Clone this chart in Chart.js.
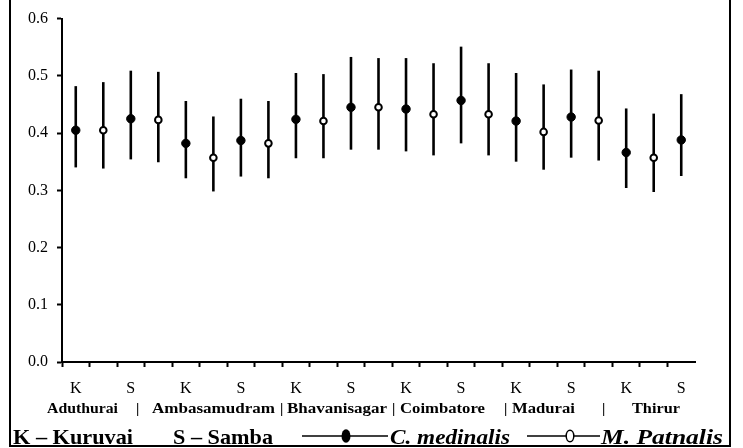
<!DOCTYPE html>
<html>
<head>
<meta charset="utf-8">
<script src="https://cdn.jsdelivr.net/npm/chart.js@4.4.1/dist/chart.umd.min.js"></script>
<style>
  html, body { margin: 0; padding: 0; background: #fff; }
  #wrap { position: relative; width: 743px; height: 448px; overflow: hidden; }
  #chart { position: absolute; left: 0; top: 0; }
  #notes { position: absolute; left: 0; top: 0; }
  #notes text { font-family: "Liberation Serif", "Times New Roman", serif; font-weight: bold; fill: #000; }
</style>
</head>
<body>
<div id="wrap">
  <canvas id="chart" width="743" height="448"></canvas>
  <svg id="notes" width="743" height="448" xmlns="http://www.w3.org/2000/svg"></svg>
</div>
<script>
// season of each labelled category (K = Kuruvai, S = Samba)
const seasons = ['K', 'S', 'K', 'S', 'K', 'S', 'K', 'S', 'K', 'S', 'K', 'S']
const locations = ['Aduthurai', 'Ambasamudram', 'Bhavanisagar', 'Coimbatore', 'Madurai', 'Thirur']

// C. medinalis (filled) - one per location/season
const medinalisMean = [0.405, 0.425, 0.382, 0.387, 0.424, 0.445, 0.442, 0.457, 0.421, 0.428, 0.366, 0.388]
const medinalisLow  = [0.340, 0.354, 0.321, 0.324, 0.356, 0.371, 0.368, 0.382, 0.350, 0.357, 0.304, 0.325]
const medinalisHigh = [0.482, 0.509, 0.456, 0.460, 0.505, 0.533, 0.531, 0.551, 0.505, 0.511, 0.443, 0.468]

// M. patnalis (open) - last season has none
const patnalisMean = [0.405, 0.423, 0.357, 0.382, 0.421, 0.445, 0.433, 0.433, 0.402, 0.422, 0.357]
const patnalisLow  = [0.338, 0.349, 0.298, 0.321, 0.356, 0.371, 0.361, 0.361, 0.336, 0.352, 0.297]
const patnalisHigh = [0.489, 0.507, 0.429, 0.456, 0.503, 0.531, 0.522, 0.522, 0.485, 0.509, 0.434]

const yTicks = [0, 0.1, 0.2, 0.3, 0.4, 0.5, 0.6]

// 23 slots: medinalis at even slots, patnalis at odd slots
const nSlots = medinalisMean.length + patnalisMean.length
const labels = []
const medData = [], patData = [], medLo = [], medHi = [], patLo = [], patHi = []
for (let i = 0; i < nSlots; i++) {
    const k = Math.floor(i / 2)
    labels.push(i % 2 === 0 ? seasons[k] : '')
    medData.push(i % 2 === 0 ? medinalisMean[k] : null)
    medLo.push(i % 2 === 0 ? medinalisLow[k] : null)
    medHi.push(i % 2 === 0 ? medinalisHigh[k] : null)
    patData.push(i % 2 === 1 ? patnalisMean[k] : null)
    patLo.push(i % 2 === 1 ? patnalisLow[k] : null)
    patHi.push(i % 2 === 1 ? patnalisHigh[k] : null)
}

const serif = "'Liberation Serif', 'Times New Roman', serif"

const errorBars = {
    id: 'errorBars',
    beforeDatasetsDraw(chart) {
        const ctx = chart.ctx
        const x = chart.scales.x, y = chart.scales.y
        ctx.save()
        ctx.strokeStyle = '#000'
        ctx.lineWidth = 2.6
        chart.data.datasets.forEach(ds => {
            ds.lo.forEach((lo, i) => {
                if (lo == null) return
                const px = x.getPixelForValue(i)
                ctx.beginPath()
                ctx.moveTo(px, y.getPixelForValue(lo))
                ctx.lineTo(px, y.getPixelForValue(ds.hi[i]))
                ctx.stroke()
            })
        })
        ctx.restore()
    }
}

new Chart(document.getElementById('chart').getContext('2d'), {
    type: 'line',
    data: {
        labels: labels,
        datasets: [{
            label: 'C. medinalis',
            data: medData,
            lo: medLo, hi: medHi,
            showLine: false,
            pointRadius: 4.2,
            pointBackgroundColor: '#000',
            pointBorderColor: '#000',
            pointBorderWidth: 1
        }, {
            label: 'M. Patnalis',
            data: patData,
            lo: patLo, hi: patHi,
            showLine: false,
            pointRadius: 3.3,
            pointBackgroundColor: '#fff',
            pointBorderColor: '#000',
            pointBorderWidth: 2
        }]
    },
    options: {
        responsive: false,
        animation: false,
        layout: { padding: { left: 0, top: 14, right: 48, bottom: 0 } },
        plugins: { legend: { display: false }, tooltip: { enabled: false } },
        scales: {
            x: {
                offset: true,
                grid: {
                    offset: true,
                    drawOnChartArea: false,
                    tickLength: 5,
                    tickWidth: 2,
                    tickColor: c => c.index === undefined ? 'rgba(0,0,0,0)' : '#000'
                },
                border: { color: '#000', width: 2 },
                ticks: {
                    autoSkip: false,
                    maxRotation: 0,
                    padding: 12,
                    color: '#000',
                    font: { family: serif, size: 16 }
                },
                afterFit: s => { s.height = 86 }
            },
            y: {
                min: 0,
                max: 0.6,
                afterBuildTicks: s => { s.ticks = yTicks.map(v => ({ value: v })) },
                grid: { drawOnChartArea: false, tickLength: 5, tickWidth: 2, tickColor: '#000' },
                border: { color: '#000', width: 2 },
                ticks: {
                    padding: 9,
                    color: '#000',
                    font: { family: serif, size: 16 },
                    callback: v => v.toFixed(1)
                },
                afterFit: s => { s.width = 62 }
            }
        }
    },
    plugins: [errorBars]
})

// frame and the two text rows under the axis
const svg = document.getElementById('notes')
const NS = 'http://www.w3.org/2000/svg'
const add = (tag, attrs, text) => {
    const el = document.createElementNS(NS, tag)
    for (const k in attrs) el.setAttribute(k, attrs[k])
    if (text) el.textContent = text
    svg.appendChild(el)
    return el
}

add('rect', { x: 10, y: -10, width: 720, height: 456, fill: 'none', stroke: '#000', 'stroke-width': 2 })

const locX = [47, 152, 287, 400, 512, 632]
const locW = [71, 123, 100, 85, 63, 48]
const barX = [136, 280, 392, 504, 602]
locations.forEach((name, i) => {
    add('text', { x: locX[i], y: 413, 'font-size': 15, textLength: locW[i], lengthAdjust: 'spacingAndGlyphs' }, name)
})
barX.forEach(x => add('text', { x: x, y: 413, 'font-size': 15 }, '|'))

add('text', { x: 13, y: 444, 'font-size': 21, textLength: 120, lengthAdjust: 'spacingAndGlyphs' }, 'K \u2013 Kuruvai')
add('text', { x: 173, y: 444, 'font-size': 21, textLength: 100, lengthAdjust: 'spacingAndGlyphs' }, 'S \u2013 Samba')

add('line', { x1: 302, y1: 436, x2: 388, y2: 436, stroke: '#000', 'stroke-width': 1.5 })
add('ellipse', { cx: 346, cy: 436, rx: 4.5, ry: 6.8, fill: '#000' })
add('text', { x: 390, y: 444, 'font-size': 21, 'font-style': 'italic', textLength: 120, lengthAdjust: 'spacingAndGlyphs' }, 'C. medinalis')

add('line', { x1: 527, y1: 436, x2: 600, y2: 436, stroke: '#000', 'stroke-width': 1.5 })
add('ellipse', { cx: 570, cy: 436, rx: 3.8, ry: 5.8, fill: '#fff', stroke: '#000', 'stroke-width': 1.5 })
add('text', { x: 601, y: 444, 'font-size': 21, 'font-style': 'italic', textLength: 122, lengthAdjust: 'spacingAndGlyphs' }, 'M. Patnalis')
</script>
</body>
</html>
